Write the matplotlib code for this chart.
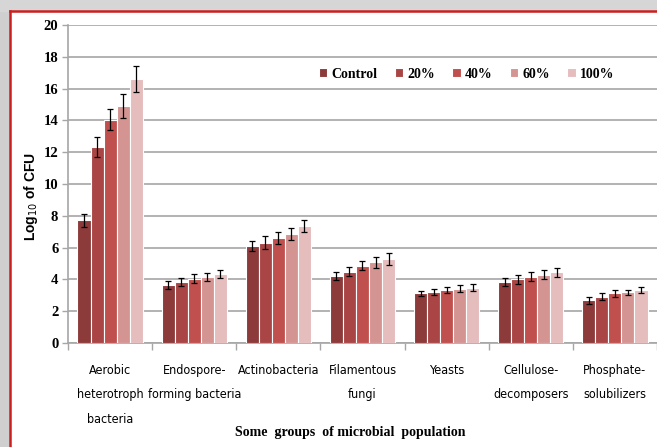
"""Log10 CFU of several microbial groups under increasing treatment levels."""

import matplotlib.pyplot as plt
import numpy as np
from matplotlib.patches import Rectangle
from matplotlib.lines import Line2D

GROUPS = ["Aerobic\nheterotroph\nbacteria", "Endospore-\nforming bacteria",
          "Actinobacteria", "Filamentous\nfungi", "Yeasts",
          "Cellulose-\ndecomposers", "Phosphate-\nsolubilizers"]
SERIES = ["Control", "20%", "40%", "60%", "100%"]
COLORS = ["#8C3A3A", "#A94545", "#C0504D", "#D49492", "#E5BDBD"]

control = [7.72, 3.63, 6.10, 4.20, 3.12, 3.86, 2.70]
pct20 = [12.30, 3.86, 6.31, 4.48, 3.19, 4.00, 2.90]
pct40 = [14.05, 4.05, 6.61, 4.86, 3.33, 4.16, 3.12]
pct60 = [14.93, 4.14, 6.84, 5.07, 3.42, 4.30, 3.18]
pct100 = [16.60, 4.35, 7.35, 5.28, 3.48, 4.45, 3.35]

err_control = [0.40, 0.25, 0.32, 0.25, 0.18, 0.25, 0.22]
err_20 = [0.63, 0.25, 0.42, 0.28, 0.18, 0.27, 0.22]
err_40 = [0.68, 0.27, 0.40, 0.28, 0.20, 0.28, 0.20]
err_60 = [0.76, 0.27, 0.37, 0.33, 0.20, 0.27, 0.18]
err_100 = [0.84, 0.25, 0.37, 0.35, 0.20, 0.27, 0.18]

values = [control, pct20, pct40, pct60, pct100]
errors = [err_control, err_20, err_40, err_60, err_100]

fig = plt.figure(figsize=(6.57, 4.47), dpi=100)
fig.patch.set_facecolor("white")

# frame: grey shadow at left/top, then a red border
fig.patches.append(Rectangle((0, 0), 0.013, 1, transform=fig.transFigure,
                             color="#cfcfcf", zorder=0))
fig.patches.append(Rectangle((0, 0.975), 1, 0.025, transform=fig.transFigure,
                             color="#d6d6d6", zorder=0))
fig.lines.append(Line2D([0.0145, 0.0145], [0, 0.975], transform=fig.transFigure,
                        color="#cc1f1f", lw=1.8))
fig.lines.append(Line2D([0.0145, 1], [0.975, 0.975], transform=fig.transFigure,
                        color="#cc1f1f", lw=1.8))

ax = fig.add_axes([0.1035, 0.2327, 0.8965, 0.7113])

x = np.arange(len(GROUPS))
width = 0.155
for i, (vals, errs) in enumerate(zip(values, errors)):
    offs = (i - 2) * width
    ax.bar(x + offs, vals, width, color=COLORS[i], edgecolor="white",
           linewidth=0.8, label=SERIES[i], zorder=3)
    ax.errorbar(x + offs, vals, yerr=errs, fmt="none", ecolor="black",
                elinewidth=0.9, capsize=2.5, capthick=0.9, zorder=4)

ax.set_xlim(-0.5, len(GROUPS) - 0.5)
ax.set_ylim(0, 20)
ax.set_yticks(np.arange(0, 21, 2))
ax.yaxis.grid(True, color="#a6a6a6", linewidth=1.2, zorder=0)
ax.set_axisbelow(True)

for side in ["top", "right"]:
    ax.spines[side].set_visible(False)
for side in ["left", "bottom"]:
    ax.spines[side].set_color("#a6a6a6")
    ax.spines[side].set_linewidth(1.2)

ax.set_xticks(np.arange(len(GROUPS) + 1) - 0.5)
ax.set_xticklabels([])
ax.tick_params(axis="x", length=5, color="#a6a6a6", width=1)
ax.tick_params(axis="y", length=4, color="#a6a6a6", width=1, pad=3)
for lbl in ax.get_yticklabels():
    lbl.set_fontfamily("Liberation Serif")
    lbl.set_fontweight("bold")
    lbl.set_fontsize(10.5)

for xi, name in zip(x, GROUPS):
    ax.text(xi, -1.3, name, ha="center", va="top", fontsize=9,
            family="DejaVu Sans", fontstretch="condensed",
            linespacing=2.15, transform=ax.transData)

fig.text(0.533, 0.033, "Some  groups  of microbial  population", ha="center",
         va="center", fontsize=10, fontweight="bold",
         family="Liberation Serif")
fig.text(0.047, 0.56, "Log$_{10}$ of CFU", rotation=90, ha="center",
         va="center", fontsize=10, fontweight="bold",
         family="Liberation Sans")

leg = ax.legend(loc="upper left", bbox_to_anchor=(0.405, 0.905), ncol=5,
                frameon=False, handlelength=0.6, handleheight=0.6,
                handletextpad=0.3, columnspacing=1.25,
                prop={"family": "Liberation Serif", "weight": "bold",
                      "size": 10})

fig.savefig("out.png", dpi=100)
